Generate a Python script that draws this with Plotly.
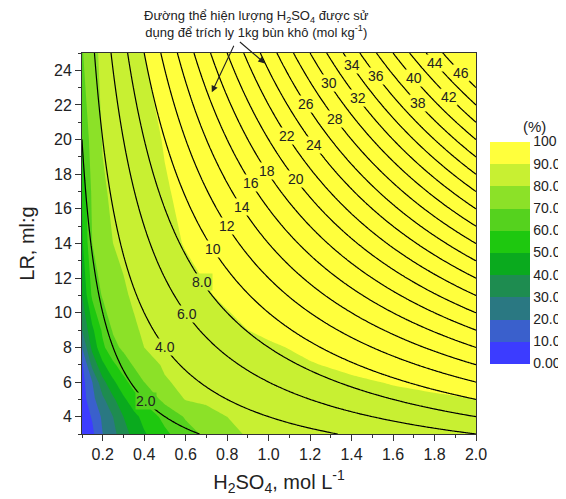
import numpy as np
import plotly.graph_objects as go

# H2SO4 concentration (mol/L) and liquid ratio LR (ml:g) grid
h2so4 = [0.1, 0.15, 0.2, 0.25, 0.3, 0.35, 0.4, 0.5, 0.6, 0.7, 0.8, 0.9, 1.0, 1.2, 1.4, 1.6, 1.8, 2.0]
lr = [3, 4, 5, 6, 7, 8, 9, 11, 14, 17, 20, 25]

# extraction efficiency (%), one row per LR
ext_lr3 = [3, 8, 20, 27, 36, 43, 49, 58, 66, 72, 77, 81, 83, 85, 86, 87, 87.5, 88]
ext_lr4 = [4, 11, 22, 30, 40, 47, 53, 63, 71, 76, 80, 83, 85, 86.5, 87.5, 88, 88.5, 89]
ext_lr5 = [5, 17, 28, 38, 48, 56, 62, 73, 80.5, 82, 83.5, 84.5, 85.5, 87, 88, 88.8, 89.4, 90]
ext_lr6 = [6, 20, 37, 48, 57, 64, 70, 79, 82.5, 84, 85, 86, 86.7, 88, 89.3, 90.3, 91, 91.5]
ext_lr7 = [8, 33, 48, 58, 65, 71, 75, 81.5, 84, 85.5, 86.5, 87.3, 88, 89.7, 91, 91.7, 92.3, 92.8]
ext_lr8 = [20, 43, 58, 67, 72, 76, 80, 83.5, 85.5, 86.8, 87.8, 88.5, 89.3, 91, 92, 92.8, 93.4, 94]
ext_lr9 = [30, 48, 62, 71, 75, 79, 81, 83.5, 85.5, 87, 88.5, 90, 91, 92.5, 93.5, 94.2, 94.8, 95.3]
ext_lr11 = [40, 62, 71, 75, 79, 81, 82.2, 84.6, 87, 89.5, 91, 92, 93, 94.5, 95.5, 96, 96.5, 97]
ext_lr14 = [48, 70, 75, 80, 81.5, 83, 84.5, 87.6, 90.5, 92, 93.5, 94.5, 95.2, 96.3, 97, 97.5, 98, 98.3]
ext_lr17 = [51, 72.5, 79, 81.3, 83, 84.5, 86.5, 89.4, 91.5, 93, 94.2, 95.2, 96, 97, 97.7, 98.2, 98.6, 99]
ext_lr20 = [60, 75, 80.5, 82.3, 84, 85.8, 87.5, 90.5, 92.3, 93.7, 95, 95.8, 96.5, 97.5, 98.2, 98.7, 99, 99.3]
ext_lr25 = [69, 78, 81.6, 83.7, 85.8, 88, 90, 92.5, 94.2, 95.5, 96.5, 97.2, 97.8, 98.5, 99, 99.3, 99.5, 99.7]

band_colors = ["#3C3CFF", "#3A60CC", "#2A7882", "#1E8C50", "#0AAA1E",
               "#1EC80F", "#55D21E", "#8CE128", "#C8F032", "#FFFF3C"]
cbar_ticks = [0, 10, 20, 30, 40, 50, 60, 70, 80, 90, 100]
cbar_text = ["0.00", "10.0", "20.0", "30.0", "40.0", "50.0", "60.0", "70.0", "80.0", "90.0", "100"]

# amount of H2SO4 used per kg dry sludge (mol/kg): line levels and label texts
acid_levels = [2, 4, 6, 8, 10, 12, 14, 16, 18, 20, 22, 24, 26, 28, 30, 32, 34, 36, 38, 40, 42, 44, 46]
acid_labels = ["2.0", "4.0", "6.0", "8.0", "10", "12", "14", "16", "18", "20", "22", "24",
               "26", "28", "30", "32", "34", "36", "38", "40", "42", "44", "46"]
# where along each line its label sits (H2SO4 concentration)
label_at_x = [0.41, 0.50, 0.605, 0.68, 0.73, 0.80, 0.87, 0.915, 0.99, 1.13, 1.09, 1.22,
              1.18, 1.32, 1.29, 1.43, 1.40, 1.52, 1.72, 1.70, 1.87, 1.80, 1.93]

z = np.array([ext_lr3, ext_lr4, ext_lr5, ext_lr6, ext_lr7, ext_lr8, ext_lr9,
              ext_lr11, ext_lr14, ext_lr17, ext_lr20, ext_lr25], dtype=float)

cs = []
n = len(band_colors)
for k, c in enumerate(band_colors):
    cs.append([k / n, c])
    cs.append([(k + 1) / n, c])

FONT = "Arial, Liberation Sans, sans-serif"
TXT = "#222"

fig = go.Figure()
fig.add_trace(go.Contour(
    x=h2so4, y=lr, z=z, zmin=0, zmax=100, autocontour=False,
    contours=dict(start=0, end=100, size=10, coloring="fill", showlines=False),
    line=dict(width=0, smoothing=0),
    colorscale=cs,
    hoverinfo="skip",
    colorbar=dict(
        x=(482 - 74) / 394, xanchor="left", xpad=0, ypad=0,
        y=1 - (133.5 - 45) / 381, yanchor="top",
        len=222, lenmode="pixels", thickness=40, outlinewidth=0,
        tickvals=cbar_ticks, ticktext=cbar_text, ticks="",
        tickfont=dict(size=14, color=TXT, family=FONT),
    ),
))

# lines of constant H2SO4 used (concentration x LR)
xf = np.linspace(min(h2so4), max(h2so4), 300)
yf = np.linspace(min(lr), max(lr), 300)
zf = np.outer(yf, xf)
fig.add_trace(go.Contour(
    x=xf, y=yf, z=zf, autocontour=False, showscale=False,
    contours=dict(start=acid_levels[0], end=acid_levels[-1],
                  size=acid_levels[1] - acid_levels[0], coloring="none", showlabels=False),
    line=dict(color="black", width=1.2),
    hoverinfo="skip",
))


def band_color_at(xv, yv):
    row_vals = np.array([np.interp(xv, h2so4, r) for r in z])
    v = np.interp(yv, lr, row_vals)
    k = int(min(max(v // 10, 0), len(band_colors) - 1))
    return band_colors[k]


for lev, txt, lx in zip(acid_levels, acid_labels, label_at_x):
    ly = lev / lx
    fig.add_annotation(x=lx, y=ly, text=txt, showarrow=False,
                       bgcolor=band_color_at(lx, ly), borderpad=0,
                       font=dict(size=14, color=TXT, family=FONT))

fig.add_annotation(
    x=(248 - 74) / 394, y=1 + (45 - 34) / 381, xref="paper", yref="paper",
    xanchor="center", yanchor="bottom", showarrow=False,
    text="Đường thể hiện lượng H<sub>2</sub>SO<sub>4</sub> được sử<br>dụng để trích ly 1kg bùn khô (mol kg<sup>-1</sup>)",
    font=dict(size=13, color=TXT, family=FONT),
)
for hx, hy, ax, ay in [(0.726, 22.73, 25, -53), (0.982, 24.4, -28, -24)]:
    fig.add_annotation(x=hx, y=hy, text=" ", showarrow=True, axref="pixel", ayref="pixel",
                       ax=ax, ay=ay, arrowhead=2, arrowsize=1.2, arrowwidth=1.1,
                       arrowcolor=TXT)
fig.add_annotation(
    x=(540 - 74) / 394, y=1 - (108 - 45) / 381, xref="paper", yref="paper",
    showarrow=False, text="(%)", font=dict(size=15, color=TXT, family=FONT),
)

fig.update_layout(
    width=566, height=499,
    margin=dict(l=74, r=98, t=45, b=73, autoexpand=False),
    paper_bgcolor="white", plot_bgcolor="white",
    font=dict(family=FONT, color=TXT),
    showlegend=False,
)
fig.update_xaxes(
    range=[0.1, 2.0], tick0=0, dtick=0.2, tickformat=".1f", automargin=False,
    ticks="outside", ticklen=6, tickwidth=1, tickcolor="#333",
    minor=dict(dtick=0.1, ticks="outside", ticklen=3, tickcolor="#333"),
    showline=True, linecolor="#333", linewidth=1, mirror=True,
    showgrid=False, zeroline=False,
    tickfont=dict(size=16, color=TXT),
    title=dict(text="H<sub>2</sub>SO<sub>4</sub>, mol L<sup>-1</sup>", font=dict(size=20, color=TXT), standoff=12),
)
fig.update_yaxes(
    range=[3, 25], tick0=0, dtick=2, automargin=False,
    ticks="outside", ticklen=6, tickwidth=1, tickcolor="#333",
    minor=dict(dtick=1, ticks="outside", ticklen=3, tickcolor="#333"),
    showline=True, linecolor="#333", linewidth=1, mirror=True,
    showgrid=False, zeroline=False,
    tickfont=dict(size=16, color=TXT),
    title=dict(text="LR, ml:g", font=dict(size=20, color=TXT), standoff=14),
)

fig.write_html("out.html")
